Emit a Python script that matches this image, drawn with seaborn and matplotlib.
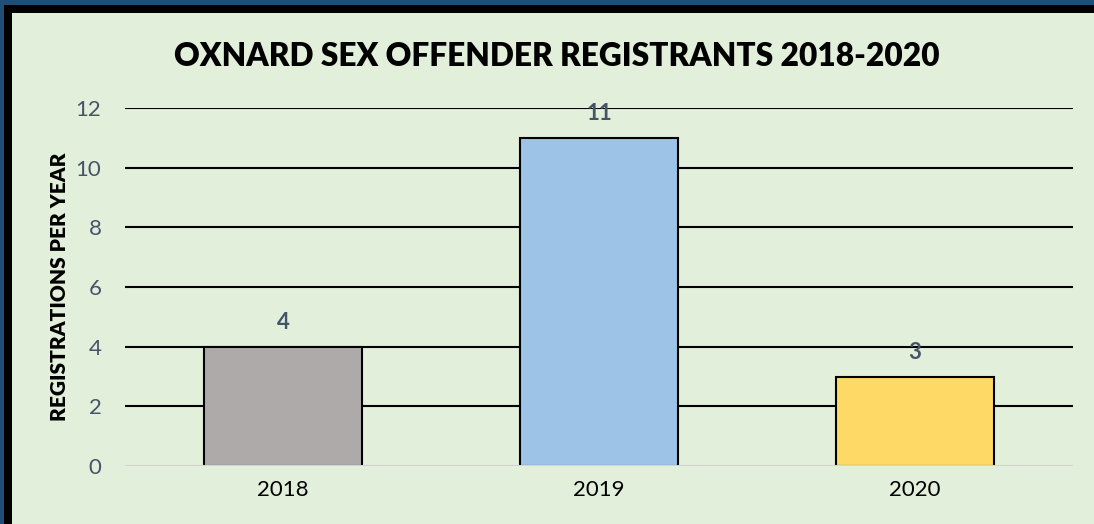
import seaborn as sns
import matplotlib.pyplot as plt
from matplotlib.patches import Rectangle
import pandas as pd

years = ['2018', '2019', '2020']
registrations = [4, 11, 3]
bar_colors = ['#AEAAAA', '#9DC3E6', '#FFD966']

df = pd.DataFrame({'Year': years, 'Registrations': registrations})

W, H = 1094, 524
fig = plt.figure(figsize=(W / 100, H / 100), dpi=100, facecolor='#E2EFDA')

# Frame on the left and top only: navy outer band, black inner band
fr = fig.add_axes([0, 0, 1, 1], zorder=0)
fr.set_xlim(0, W)
fr.set_ylim(H, 0)
fr.axis('off')
fr.add_patch(Rectangle((0, 0), W, 5, color='#1F4E79', lw=0))
fr.add_patch(Rectangle((0, 0), 4, H, color='#1F4E79', lw=0))
fr.add_patch(Rectangle((4, 5), W, 8, color='black', lw=0))
fr.add_patch(Rectangle((4, 5), 8, H, color='black', lw=0))

ax = fig.add_axes([125 / W, 1 - 466 / H, (1073 - 125) / W, (466 - 108) / H], zorder=2)
ax.set_facecolor('none')

sns.barplot(data=df, x='Year', y='Registrations', hue='Year', palette=bar_colors,
            width=0.5, edgecolor='black', linewidth=1.5, legend=False, ax=ax,
            saturation=1, zorder=3)

ax.set_ylim(0, 12)
ax.set_xlim(-0.5, 2.5)
ax.set_yticks(range(0, 13, 2))
for y in range(2, 13, 2):
    ax.axhline(y, color='black', linewidth=1.5, zorder=1)
ax.axhline(0, color='#D0D4DC', linewidth=1.5, zorder=4)

for spine in ax.spines.values():
    spine.set_visible(False)
ax.tick_params(axis='both', length=0)
ax.tick_params(axis='y', labelsize=16, labelcolor='#44546A', pad=17)
ax.tick_params(axis='x', labelsize=16, labelcolor='black', pad=10)
for lab in ax.get_xticklabels() + ax.get_yticklabels():
    lab.set_family('Lato')

ax.set_xlabel('')
ax.set_ylabel('REGISTRATIONS PER YEAR', fontsize=15, fontweight='heavy',
              family='Lato', labelpad=5)

for i, v in enumerate(registrations):
    ax.annotate(str(v), (i, v), xytext=(0, 10), textcoords='offset points',
                ha='center', va='bottom', fontsize=16, fontweight='bold',
                color='#44546A', family='Lato', zorder=5)

fig.text(557 / W, 1 - 56 / H, 'OXNARD SEX OFFENDER REGISTRANTS 2018-2020',
         ha='center', va='center', fontsize=22.8, fontweight='heavy', family='Lato')

fig.savefig('out.png', dpi=100, facecolor=fig.get_facecolor())
